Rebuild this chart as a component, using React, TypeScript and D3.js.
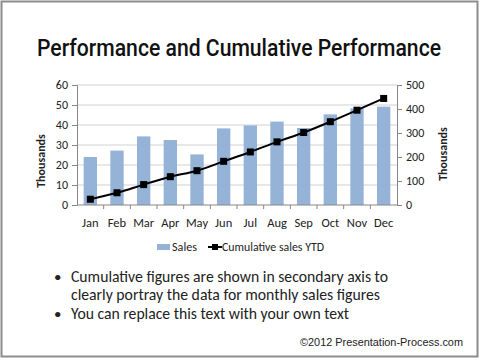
import React, { useEffect, useRef } from 'react'
import * as d3 from 'd3'

const months = ['Jan', 'Feb', 'Mar', 'Apr', 'May', 'Jun', 'Jul', 'Aug', 'Sep', 'Oct', 'Nov', 'Dec']
const sales = [24, 27.2, 34.3, 32.5, 25.3, 38.3, 39.8, 41.7, 38.5, 45.3, 48.3, 49.2]
const cumulative = [24, 51, 85, 118, 143, 182, 221, 263, 302, 347, 395, 444]
const leftTicks = [0, 10, 20, 30, 40, 50, 60]
const rightTicks = [0, 100, 200, 300, 400, 500]
const bullets = [
    ['Cumulative figures are shown in secondary axis to', 'clearly portray the data for monthly sales figures'],
    ['You can replace this text with your own text'],
]
const bulletWidths = [317, 309, 278]

const W = 480
const H = 362

const App = () => {
    const svgRef = useRef<SVGSVGElement>(null)

    useEffect(() => {
        const svg: any = d3.select(svgRef.current)
        svg.selectAll('*').remove()

        const font = 'Calibri, Carlito, Lato, "Open Sans", sans-serif'
        const left = 77, right = 397, top = 85, bottom = 205

        // frame
        svg.append('rect')
            .attr('x', 1.5).attr('y', 1.5)
            .attr('width', 476).attr('height', 355)
            .attr('fill', 'white')
            .attr('stroke', '#8c8c8c')
            .attr('stroke-width', 2)

        // title: smaller font stretched vertically to look condensed
        svg.append('g')
            .attr('transform', 'translate(239,56) scale(1,1.2)')
            .append('text')
            .attr('text-anchor', 'middle')
            .attr('font-family', '"Liberation Sans Narrow", "Arial Narrow", Roboto, sans-serif')
            .attr('font-size', 20)
            .attr('font-weight', 500)
            .attr('textLength', 404)
            .attr('lengthAdjust', 'spacingAndGlyphs')
            .attr('fill', '#111')
            .text('Performance and Cumulative Performance')

        const x = d3.scaleBand().domain(months).range([left, right]).paddingInner(0.5).paddingOuter(0.25)
        const xo = d3.scaleBand().domain(months).range([left, right])
        const y = d3.scaleLinear().domain([0, 60]).range([bottom, top])
        const y2 = d3.scaleLinear().domain([0, 500]).range([bottom, top])

        const g = svg.append('g')

        // gridlines
        g.selectAll('.grid')
            .data(leftTicks.slice(1))
            .join('line')
            .attr('x1', left).attr('x2', right)
            .attr('y1', (d: number) => y(d)).attr('y2', (d: number) => y(d))
            .attr('stroke', '#d0d0d0')

        // bars
        g.selectAll('.bar')
            .data(sales)
            .join('rect')
            .attr('x', (_: number, i: number) => x(months[i]))
            .attr('y', (d: number) => y(d))
            .attr('width', x.bandwidth())
            .attr('height', (d: number) => bottom - y(d))
            .attr('fill', '#95b3d7')

        const axisColor = '#868686'

        // left axis
        const la = g.append('g').attr('transform', `translate(${left},0)`)
            .call(d3.axisLeft(y).tickValues(leftTicks).tickSize(5).tickPadding(4))
        // right axis
        const ra = g.append('g').attr('transform', `translate(${right},0)`)
            .call(d3.axisRight(y2).tickValues(rightTicks).tickSize(5).tickPadding(4))
        for (const a of [la, ra]) {
            a.select('.domain').attr('stroke', axisColor)
            a.selectAll('.tick line').attr('stroke', axisColor)
            a.selectAll('.tick text')
                .attr('font-family', font)
                .attr('font-size', 12)
                .attr('fill', '#222')
        }

        // x axis
        const xa = g.append('g').attr('transform', `translate(0,${bottom})`)
        xa.append('line').attr('x1', left).attr('x2', right).attr('stroke', axisColor)
        xa.selectAll('.xt')
            .data(months.slice(1))
            .join('line')
            .attr('x1', (d: string) => xo(d)).attr('x2', (d: string) => xo(d))
            .attr('y1', 0).attr('y2', 4)
            .attr('stroke', axisColor)
        xa.selectAll('.xl')
            .data(months)
            .join('text')
            .attr('x', (d: string) => (xo(d) as number) + xo.bandwidth() / 2)
            .attr('y', 22)
            .attr('text-anchor', 'middle')
            .attr('font-family', font)
            .attr('font-size', 12.5)
            .attr('fill', '#222')
            .text((d: string) => d)

        // axis titles
        svg.append('text')
            .attr('transform', 'translate(45,161) rotate(-90)')
            .attr('text-anchor', 'middle')
            .attr('font-family', font).attr('font-weight', 'bold').attr('font-size', 12)
            .attr('fill', '#222')
            .text('Thousands')
        svg.append('text')
            .attr('transform', 'translate(447,154) rotate(-90)')
            .attr('text-anchor', 'middle')
            .attr('font-family', font).attr('font-weight', 'bold').attr('font-size', 12)
            .attr('fill', '#222')
            .text('Thousands')

        // cumulative line
        const cx = (i: number) => (xo(months[i]) as number) + xo.bandwidth() / 2
        const line = d3.line<number>().x((_, i) => cx(i)).y((d) => y2(d)).curve(d3.curveMonotoneX)
        g.append('path')
            .datum(cumulative)
            .attr('d', line)
            .attr('fill', 'none')
            .attr('stroke', 'black')
            .attr('stroke-width', 2)
        g.selectAll('.pt')
            .data(cumulative)
            .join('rect')
            .attr('x', (_: number, i: number) => cx(i) - 3.5)
            .attr('y', (d: number) => y2(d) - 3.5)
            .attr('width', 7).attr('height', 7)
            .attr('fill', 'black')

        // legend
        const lg = svg.append('g')
        lg.append('rect').attr('x', 157).attr('y', 244).attr('width', 13).attr('height', 6).attr('fill', '#95b3d7')
        lg.append('text').attr('x', 172).attr('y', 251)
            .attr('font-family', font).attr('font-size', 11.5).attr('fill', '#222')
            .attr('textLength', 25).attr('lengthAdjust', 'spacingAndGlyphs').text('Sales')
        lg.append('line').attr('x1', 208).attr('x2', 222).attr('y1', 247).attr('y2', 247)
            .attr('stroke', 'black').attr('stroke-width', 2)
        lg.append('rect').attr('x', 212).attr('y', 244).attr('width', 6).attr('height', 6).attr('fill', 'black')
        lg.append('text').attr('x', 222).attr('y', 251)
            .attr('font-family', font).attr('font-size', 11.5).attr('fill', '#222')
            .attr('textLength', 102).attr('lengthAdjust', 'spacingAndGlyphs').text('Cumulative sales YTD')

        // bullet text
        let ly = 282
        let k = 0
        bullets.forEach((b) => {
            svg.append('text').attr('x', 54).attr('y', ly)
                .attr('font-family', font).attr('font-size', 15).attr('fill', '#222').text('•')
            b.forEach((t) => {
                svg.append('text').attr('x', 71).attr('y', ly)
                    .attr('font-family', font).attr('font-size', 16).attr('fill', '#222')
                    .attr('textLength', bulletWidths[k]).attr('lengthAdjust', 'spacingAndGlyphs')
                    .text(t)
                ly += 18.3
                k++
            })
        })

        svg.append('text')
            .attr('x', 463).attr('y', 346)
            .attr('text-anchor', 'end')
            .attr('font-family', 'Arial, "Liberation Sans", sans-serif')
            .attr('font-size', 11.5)
            .attr('fill', '#222')
            .attr('textLength', 163).attr('lengthAdjust', 'spacingAndGlyphs')
            .text('©2012 Presentation-Process.com')
    })

    return (
        <svg ref={svgRef} width={W} height={H} style={{ position: 'absolute', left: 0, top: 0, display: 'block' }}></svg>
    )
}

export default App
